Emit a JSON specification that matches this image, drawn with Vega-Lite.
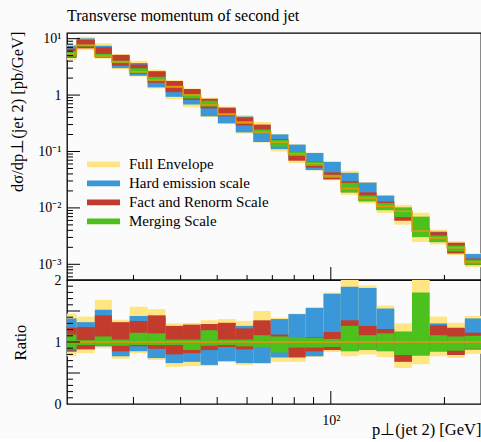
{
  "$schema": "https://vega.github.io/schema/vega-lite/v6.json",
  "background": "#fbfbfb",
  "padding": {"left": 8, "top": 8, "right": 0, "bottom": 0},
  "title": {"text": "Transverse momentum of second jet", "anchor": "start", "frame": "group", "font": "Liberation Serif", "fontSize": 16, "fontWeight": "normal", "color": "black", "baseline": "alphabetic", "offset": -7},
  "spacing": 0,
  "bounds": "flush",
  "resolve": {"legend": {"color": "independent"}},
  "config": {
    "view": {"stroke": "black", "strokeWidth": 1.3},
    "axis": {"grid": false, "domain": false, "ticks": false, "labelFont": "Liberation Serif", "labelFontSize": 14, "labelColor": "black", "titleFont": "Liberation Serif", "titleFontSize": 16.5, "titleFontWeight": "normal", "titleColor": "black", "labelFlush": false, "labelOverlap": false, "labelBound": false}
  },
  "datasets": {
    "bands": [
      {"b": "Full Envelope", "lo": 20, "hi": 21.2, "ylo": 4.17, "yhi": 7.91, "rlo": 0.77, "rhi": 1.46},
      {"b": "Full Envelope", "lo": 21.2, "hi": 23.7, "ylo": 6.26, "yhi": 10.77, "rlo": 0.82, "rhi": 1.41},
      {"b": "Full Envelope", "lo": 23.7, "hi": 26.3, "ylo": 4.44, "yhi": 8.28, "rlo": 0.90, "rhi": 1.68},
      {"b": "Full Envelope", "lo": 26.3, "hi": 29.3, "ylo": 2.85, "yhi": 5.32, "rlo": 0.73, "rhi": 1.36},
      {"b": "Full Envelope", "lo": 29.3, "hi": 32.7, "ylo": 2.13, "yhi": 4.08, "rlo": 0.82, "rhi": 1.57},
      {"b": "Full Envelope", "lo": 32.7, "hi": 36.5, "ylo": 1.31, "yhi": 2.83, "rlo": 0.71, "rhi": 1.53},
      {"b": "Full Envelope", "lo": 36.5, "hi": 40.6, "ylo": 0.846, "yhi": 1.833, "rlo": 0.60, "rhi": 1.30},
      {"b": "Full Envelope", "lo": 40.6, "hi": 45.2, "ylo": 0.61, "yhi": 1.31, "rlo": 0.61, "rhi": 1.31},
      {"b": "Full Envelope", "lo": 45.2, "hi": 50.2, "ylo": 0.407, "yhi": 0.900, "rlo": 0.61, "rhi": 1.35},
      {"b": "Full Envelope", "lo": 50.2, "hi": 56.0, "ylo": 0.311, "yhi": 0.626, "rlo": 0.68, "rhi": 1.37},
      {"b": "Full Envelope", "lo": 56.0, "hi": 62.3, "ylo": 0.208, "yhi": 0.442, "rlo": 0.63, "rhi": 1.34},
      {"b": "Full Envelope", "lo": 62.3, "hi": 69.3, "ylo": 0.144, "yhi": 0.333, "rlo": 0.65, "rhi": 1.50},
      {"b": "Full Envelope", "lo": 69.3, "hi": 77.2, "ylo": 0.100, "yhi": 0.204, "rlo": 0.68, "rhi": 1.39},
      {"b": "Full Envelope", "lo": 77.2, "hi": 85.8, "ylo": 0.0622, "yhi": 0.1334, "rlo": 0.68, "rhi": 1.46},
      {"b": "Full Envelope", "lo": 85.8, "hi": 95.6, "ylo": 0.0462, "yhi": 0.0948, "rlo": 0.76, "rhi": 1.56},
      {"b": "Full Envelope", "lo": 95.6, "hi": 106.3, "ylo": 0.0309, "yhi": 0.0662, "rlo": 0.84, "rhi": 1.80},
      {"b": "Full Envelope", "lo": 106.3, "hi": 118.5, "ylo": 0.0170, "yhi": 0.0453, "rlo": 0.77, "rhi": 2.05},
      {"b": "Full Envelope", "lo": 118.5, "hi": 132.2, "ylo": 0.0120, "yhi": 0.0287, "rlo": 0.80, "rhi": 1.91},
      {"b": "Full Envelope", "lo": 132.2, "hi": 147.3, "ylo": 0.00813, "yhi": 0.01701, "rlo": 0.76, "rhi": 1.59},
      {"b": "Full Envelope", "lo": 147.3, "hi": 164.1, "ylo": 0.00505, "yhi": 0.01131, "rlo": 0.58, "rhi": 1.30},
      {"b": "Full Envelope", "lo": 164.1, "hi": 182.8, "ylo": 0.00249, "yhi": 0.00821, "rlo": 0.64, "rhi": 2.11},
      {"b": "Full Envelope", "lo": 182.8, "hi": 203.3, "ylo": 0.00225, "yhi": 0.00412, "rlo": 0.77, "rhi": 1.41},
      {"b": "Full Envelope", "lo": 203.3, "hi": 226.5, "ylo": 0.00146, "yhi": 0.00258, "rlo": 0.74, "rhi": 1.31},
      {"b": "Full Envelope", "lo": 226.5, "hi": 250, "ylo": 0.00089, "yhi": 0.00156, "rlo": 0.81, "rhi": 1.42},
      {"b": "Hard emission scale", "lo": 20, "hi": 21.2, "ylo": 4.55, "yhi": 7.48, "rlo": 0.84, "rhi": 1.38},
      {"b": "Hard emission scale", "lo": 21.2, "hi": 23.7, "ylo": 6.88, "yhi": 10.08, "rlo": 0.90, "rhi": 1.32},
      {"b": "Hard emission scale", "lo": 23.7, "hi": 26.3, "ylo": 4.58, "yhi": 7.49, "rlo": 0.93, "rhi": 1.52},
      {"b": "Hard emission scale", "lo": 26.3, "hi": 29.3, "ylo": 3.01, "yhi": 5.08, "rlo": 0.77, "rhi": 1.30},
      {"b": "Hard emission scale", "lo": 29.3, "hi": 32.7, "ylo": 2.21, "yhi": 3.69, "rlo": 0.85, "rhi": 1.42},
      {"b": "Hard emission scale", "lo": 32.7, "hi": 36.5, "ylo": 1.37, "yhi": 2.59, "rlo": 0.74, "rhi": 1.40},
      {"b": "Hard emission scale", "lo": 36.5, "hi": 40.6, "ylo": 0.931, "yhi": 1.692, "rlo": 0.66, "rhi": 1.20},
      {"b": "Hard emission scale", "lo": 40.6, "hi": 45.2, "ylo": 0.68, "yhi": 1.20, "rlo": 0.68, "rhi": 1.20},
      {"b": "Hard emission scale", "lo": 45.2, "hi": 50.2, "ylo": 0.420, "yhi": 0.800, "rlo": 0.63, "rhi": 1.20},
      {"b": "Hard emission scale", "lo": 50.2, "hi": 56.0, "ylo": 0.315, "yhi": 0.548, "rlo": 0.69, "rhi": 1.20},
      {"b": "Hard emission scale", "lo": 56.0, "hi": 62.3, "ylo": 0.218, "yhi": 0.416, "rlo": 0.66, "rhi": 1.26},
      {"b": "Hard emission scale", "lo": 62.3, "hi": 69.3, "ylo": 0.147, "yhi": 0.289, "rlo": 0.66, "rhi": 1.30},
      {"b": "Hard emission scale", "lo": 69.3, "hi": 77.2, "ylo": 0.110, "yhi": 0.201, "rlo": 0.75, "rhi": 1.37},
      {"b": "Hard emission scale", "lo": 77.2, "hi": 85.8, "ylo": 0.0731, "yhi": 0.1325, "rlo": 0.80, "rhi": 1.45},
      {"b": "Hard emission scale", "lo": 85.8, "hi": 95.6, "ylo": 0.0468, "yhi": 0.0942, "rlo": 0.77, "rhi": 1.55},
      {"b": "Hard emission scale", "lo": 95.6, "hi": 106.3, "ylo": 0.0324, "yhi": 0.0655, "rlo": 0.88, "rhi": 1.78},
      {"b": "Hard emission scale", "lo": 106.3, "hi": 118.5, "ylo": 0.0190, "yhi": 0.0418, "rlo": 0.86, "rhi": 1.89},
      {"b": "Hard emission scale", "lo": 118.5, "hi": 132.2, "ylo": 0.0132, "yhi": 0.0281, "rlo": 0.88, "rhi": 1.87},
      {"b": "Hard emission scale", "lo": 132.2, "hi": 147.3, "ylo": 0.00931, "yhi": 0.01648, "rlo": 0.87, "rhi": 1.54},
      {"b": "Hard emission scale", "lo": 147.3, "hi": 164.1, "ylo": 0.00740, "yhi": 0.00957, "rlo": 0.85, "rhi": 1.10},
      {"b": "Hard emission scale", "lo": 164.1, "hi": 182.8, "ylo": 0.00331, "yhi": 0.00428, "rlo": 0.85, "rhi": 1.10},
      {"b": "Hard emission scale", "lo": 182.8, "hi": 203.3, "ylo": 0.00248, "yhi": 0.00380, "rlo": 0.85, "rhi": 1.30},
      {"b": "Hard emission scale", "lo": 203.3, "hi": 226.5, "ylo": 0.00167, "yhi": 0.00236, "rlo": 0.85, "rhi": 1.20},
      {"b": "Hard emission scale", "lo": 226.5, "hi": 250, "ylo": 0.00097, "yhi": 0.00152, "rlo": 0.88, "rhi": 1.38},
      {"b": "Fact and Renorm Scale", "lo": 20, "hi": 21.2, "ylo": 4.66, "yhi": 6.67, "rlo": 0.86, "rhi": 1.23},
      {"b": "Fact and Renorm Scale", "lo": 21.2, "hi": 23.7, "ylo": 6.72, "yhi": 9.47, "rlo": 0.88, "rhi": 1.24},
      {"b": "Fact and Renorm Scale", "lo": 23.7, "hi": 26.3, "ylo": 4.68, "yhi": 7.05, "rlo": 0.95, "rhi": 1.43},
      {"b": "Fact and Renorm Scale", "lo": 26.3, "hi": 29.3, "ylo": 3.32, "yhi": 5.16, "rlo": 0.85, "rhi": 1.32},
      {"b": "Fact and Renorm Scale", "lo": 29.3, "hi": 32.7, "ylo": 2.42, "yhi": 3.48, "rlo": 0.93, "rhi": 1.34},
      {"b": "Fact and Renorm Scale", "lo": 32.7, "hi": 36.5, "ylo": 1.65, "yhi": 2.65, "rlo": 0.89, "rhi": 1.43},
      {"b": "Fact and Renorm Scale", "lo": 36.5, "hi": 40.6, "ylo": 1.128, "yhi": 1.777, "rlo": 0.80, "rhi": 1.26},
      {"b": "Fact and Renorm Scale", "lo": 40.6, "hi": 45.2, "ylo": 0.82, "yhi": 1.28, "rlo": 0.82, "rhi": 1.28},
      {"b": "Fact and Renorm Scale", "lo": 45.2, "hi": 50.2, "ylo": 0.580, "yhi": 0.860, "rlo": 0.87, "rhi": 1.29},
      {"b": "Fact and Renorm Scale", "lo": 50.2, "hi": 56.0, "ylo": 0.420, "yhi": 0.599, "rlo": 0.92, "rhi": 1.31},
      {"b": "Fact and Renorm Scale", "lo": 56.0, "hi": 62.3, "ylo": 0.290, "yhi": 0.403, "rlo": 0.88, "rhi": 1.22},
      {"b": "Fact and Renorm Scale", "lo": 62.3, "hi": 69.3, "ylo": 0.206, "yhi": 0.300, "rlo": 0.93, "rhi": 1.35},
      {"b": "Fact and Renorm Scale", "lo": 69.3, "hi": 77.2, "ylo": 0.125, "yhi": 0.165, "rlo": 0.85, "rhi": 1.12},
      {"b": "Fact and Renorm Scale", "lo": 77.2, "hi": 85.8, "ylo": 0.0686, "yhi": 0.0951, "rlo": 0.75, "rhi": 1.04},
      {"b": "Fact and Renorm Scale", "lo": 85.8, "hi": 95.6, "ylo": 0.0517, "yhi": 0.0657, "rlo": 0.85, "rhi": 1.08},
      {"b": "Fact and Renorm Scale", "lo": 95.6, "hi": 106.3, "ylo": 0.0320, "yhi": 0.0427, "rlo": 0.87, "rhi": 1.16},
      {"b": "Fact and Renorm Scale", "lo": 106.3, "hi": 118.5, "ylo": 0.0190, "yhi": 0.0298, "rlo": 0.86, "rhi": 1.35},
      {"b": "Fact and Renorm Scale", "lo": 118.5, "hi": 132.2, "ylo": 0.0132, "yhi": 0.0189, "rlo": 0.88, "rhi": 1.26},
      {"b": "Fact and Renorm Scale", "lo": 132.2, "hi": 147.3, "ylo": 0.00920, "yhi": 0.01295, "rlo": 0.86, "rhi": 1.21},
      {"b": "Fact and Renorm Scale", "lo": 147.3, "hi": 164.1, "ylo": 0.00592, "yhi": 0.01001, "rlo": 0.68, "rhi": 1.15},
      {"b": "Fact and Renorm Scale", "lo": 164.1, "hi": 182.8, "ylo": 0.00311, "yhi": 0.00428, "rlo": 0.80, "rhi": 1.10},
      {"b": "Fact and Renorm Scale", "lo": 182.8, "hi": 203.3, "ylo": 0.00248, "yhi": 0.00371, "rlo": 0.85, "rhi": 1.27},
      {"b": "Fact and Renorm Scale", "lo": 203.3, "hi": 226.5, "ylo": 0.00156, "yhi": 0.00242, "rlo": 0.79, "rhi": 1.23},
      {"b": "Fact and Renorm Scale", "lo": 226.5, "hi": 250, "ylo": 0.00097, "yhi": 0.00127, "rlo": 0.88, "rhi": 1.15},
      {"b": "Merging Scale", "lo": 20, "hi": 21.2, "ylo": 4.77, "yhi": 6.07, "rlo": 0.88, "rhi": 1.12},
      {"b": "Merging Scale", "lo": 21.2, "hi": 23.7, "ylo": 7.26, "yhi": 7.87, "rlo": 0.95, "rhi": 1.03},
      {"b": "Merging Scale", "lo": 23.7, "hi": 26.3, "ylo": 4.68, "yhi": 5.37, "rlo": 0.95, "rhi": 1.09},
      {"b": "Merging Scale", "lo": 26.3, "hi": 29.3, "ylo": 3.68, "yhi": 4.07, "rlo": 0.94, "rhi": 1.04},
      {"b": "Merging Scale", "lo": 29.3, "hi": 32.7, "ylo": 2.47, "yhi": 2.99, "rlo": 0.95, "rhi": 1.15},
      {"b": "Merging Scale", "lo": 32.7, "hi": 36.5, "ylo": 1.76, "yhi": 2.11, "rlo": 0.95, "rhi": 1.14},
      {"b": "Merging Scale", "lo": 36.5, "hi": 40.6, "ylo": 1.340, "yhi": 1.466, "rlo": 0.95, "rhi": 1.04},
      {"b": "Merging Scale", "lo": 40.6, "hi": 45.2, "ylo": 0.87, "yhi": 1.04, "rlo": 0.87, "rhi": 1.04},
      {"b": "Merging Scale", "lo": 45.2, "hi": 50.2, "ylo": 0.627, "yhi": 0.794, "rlo": 0.94, "rhi": 1.19},
      {"b": "Merging Scale", "lo": 50.2, "hi": 56.0, "ylo": 0.434, "yhi": 0.475, "rlo": 0.95, "rhi": 1.04},
      {"b": "Merging Scale", "lo": 56.0, "hi": 62.3, "ylo": 0.307, "yhi": 0.343, "rlo": 0.93, "rhi": 1.04},
      {"b": "Merging Scale", "lo": 62.3, "hi": 69.3, "ylo": 0.204, "yhi": 0.246, "rlo": 0.92, "rhi": 1.11},
      {"b": "Merging Scale", "lo": 69.3, "hi": 77.2, "ylo": 0.122, "yhi": 0.160, "rlo": 0.83, "rhi": 1.09},
      {"b": "Merging Scale", "lo": 77.2, "hi": 85.8, "ylo": 0.0832, "yhi": 0.0978, "rlo": 0.91, "rhi": 1.07},
      {"b": "Merging Scale", "lo": 85.8, "hi": 95.6, "ylo": 0.0553, "yhi": 0.0651, "rlo": 0.91, "rhi": 1.07},
      {"b": "Merging Scale", "lo": 95.6, "hi": 106.3, "ylo": 0.0339, "yhi": 0.0386, "rlo": 0.92, "rhi": 1.05},
      {"b": "Merging Scale", "lo": 106.3, "hi": 118.5, "ylo": 0.0188, "yhi": 0.0278, "rlo": 0.85, "rhi": 1.26},
      {"b": "Merging Scale", "lo": 118.5, "hi": 132.2, "ylo": 0.0131, "yhi": 0.0167, "rlo": 0.87, "rhi": 1.11},
      {"b": "Merging Scale", "lo": 132.2, "hi": 147.3, "ylo": 0.00910, "yhi": 0.01220, "rlo": 0.85, "rhi": 1.14},
      {"b": "Merging Scale", "lo": 147.3, "hi": 164.1, "ylo": 0.00687, "yhi": 0.01018, "rlo": 0.79, "rhi": 1.17},
      {"b": "Merging Scale", "lo": 164.1, "hi": 182.8, "ylo": 0.00303, "yhi": 0.00700, "rlo": 0.78, "rhi": 1.80},
      {"b": "Merging Scale", "lo": 182.8, "hi": 203.3, "ylo": 0.00248, "yhi": 0.00324, "rlo": 0.85, "rhi": 1.11},
      {"b": "Merging Scale", "lo": 203.3, "hi": 226.5, "ylo": 0.00169, "yhi": 0.00215, "rlo": 0.86, "rhi": 1.09},
      {"b": "Merging Scale", "lo": 226.5, "hi": 250, "ylo": 0.00098, "yhi": 0.00121, "rlo": 0.89, "rhi": 1.10}
    ],
    "nominal": [
      {"x": 20, "y": 5.42}, {"x": 21.2, "y": 7.64}, {"x": 23.7, "y": 4.93}, {"x": 26.3, "y": 3.91},
      {"x": 29.3, "y": 2.60}, {"x": 32.7, "y": 1.85}, {"x": 36.5, "y": 1.41}, {"x": 40.6, "y": 1.00},
      {"x": 45.2, "y": 0.667}, {"x": 50.2, "y": 0.457}, {"x": 56.0, "y": 0.330}, {"x": 62.3, "y": 0.222},
      {"x": 69.3, "y": 0.147}, {"x": 77.2, "y": 0.0914}, {"x": 85.8, "y": 0.0608}, {"x": 95.6, "y": 0.0368},
      {"x": 106.3, "y": 0.0221}, {"x": 118.5, "y": 0.0150}, {"x": 132.2, "y": 0.0107}, {"x": 147.3, "y": 0.0087},
      {"x": 164.1, "y": 0.00389}, {"x": 182.8, "y": 0.00292}, {"x": 203.3, "y": 0.00197}, {"x": 226.5, "y": 0.00110},
      {"x": 250, "y": 0.00110}
    ],
    "yMajor": [{"v": 0.001}, {"v": 0.01}, {"v": 0.1}, {"v": 1}, {"v": 10}],
    "yMinor": [{"v": 0.0006}, {"v": 0.0007}, {"v": 0.0008}, {"v": 0.0009}, {"v": 0.002}, {"v": 0.003}, {"v": 0.004}, {"v": 0.005}, {"v": 0.006}, {"v": 0.007}, {"v": 0.008}, {"v": 0.009}, {"v": 0.02}, {"v": 0.03}, {"v": 0.04}, {"v": 0.05}, {"v": 0.06}, {"v": 0.07}, {"v": 0.08}, {"v": 0.09}, {"v": 0.2}, {"v": 0.3}, {"v": 0.4}, {"v": 0.5}, {"v": 0.6}, {"v": 0.7}, {"v": 0.8}, {"v": 0.9}, {"v": 2}, {"v": 3}, {"v": 4}, {"v": 5}, {"v": 6}, {"v": 7}, {"v": 8}, {"v": 9}],
    "xMajor": [{"v": 100}],
    "xMinor": [{"v": 30}, {"v": 40}, {"v": 50}, {"v": 60}, {"v": 70}, {"v": 80}, {"v": 90}, {"v": 200}],
    "rMajor": [{"v": 0.5}, {"v": 1}, {"v": 1.5}],
    "rMinor": [{"v": 0.1}, {"v": 0.2}, {"v": 0.3}, {"v": 0.4}, {"v": 0.6}, {"v": 0.7}, {"v": 0.8}, {"v": 0.9}, {"v": 1.1}, {"v": 1.2}, {"v": 1.3}, {"v": 1.4}, {"v": 1.6}, {"v": 1.7}, {"v": 1.8}, {"v": 1.9}]
  },
  "vconcat": [
    {
      "width": 414,
      "height": 247,
      "layer": [
        {
          "data": {"name": "bands"},
          "mark": {"type": "rect", "clip": true},
          "encoding": {
            "x": {"field": "lo", "type": "quantitative", "scale": {"type": "log", "domain": [20, 250], "nice": false},
              "axis": {"values": [100], "labels": false, "title": null}},
            "x2": {"field": "hi"},
            "y": {"field": "ylo", "type": "quantitative", "scale": {"type": "log", "domain": [0.000527, 12.6], "nice": false},
              "axis": {"values": [0.001, 0.01, 0.1, 1, 10],
                "labelExpr": "datum.value == 10 ? '10\u00b9' : datum.value == 1 ? '1' : datum.value == 0.1 ? '10\u207b\u00b9' : datum.value == 0.01 ? '10\u207b\u00b2' : '10\u207b\u00b3'",
                "labelPadding": 6,
                "title": "d\u03c3/dp\u22a5(jet 2) [pb/GeV]", "titleAnchor": "end", "titleX": -50, "titleY": -2, "titleBaseline": "middle"}},
            "y2": {"field": "yhi"},
            "color": {"field": "b", "type": "nominal",
              "scale": {"domain": ["Full Envelope", "Hard emission scale", "Fact and Renorm Scale", "Merging Scale"], "range": ["#ffe682", "#3a98d8", "#c33b2c", "#4cc01c"]},
              "legend": {"orient": "none", "legendX": 20, "legendY": 122, "title": null, "padding": 0,
                "symbolType": "M-1,-0.18H1V0.18H-1Z", "symbolSize": 1089, "symbolStrokeWidth": 0, "symbolOpacity": 1,
                "labelFont": "Liberation Serif", "labelFontSize": 15, "labelColor": "black", "labelOffset": 9,
                "clipHeight": 18.7, "rowPadding": 0}}
          }
        },
        {
          "data": {"name": "nominal"},
          "mark": {"type": "line", "interpolate": "step-after", "color": "#e8960c", "strokeWidth": 1.5, "clip": true},
          "encoding": {
            "x": {"field": "x", "type": "quantitative"},
            "y": {"field": "y", "type": "quantitative"}
          }
        },
        {
          "data": {"name": "yMajor"},
          "mark": {"type": "rule", "color": "black", "strokeWidth": 1, "x2Offset": 13},
          "encoding": {
            "y": {"field": "v", "type": "quantitative"},
            "x": {"datum": 20, "type": "quantitative"},
            "x2": {"datum": 20}
          }
        },
        {
          "data": {"name": "yMinor"},
          "mark": {"type": "rule", "color": "black", "strokeWidth": 1, "x2Offset": 6},
          "encoding": {
            "y": {"field": "v", "type": "quantitative"},
            "x": {"datum": 20, "type": "quantitative"},
            "x2": {"datum": 20}
          }
        },
        {
          "data": {"name": "xMajor"},
          "mark": {"type": "rule", "color": "black", "strokeWidth": 1, "y2Offset": -13},
          "encoding": {
            "x": {"field": "v", "type": "quantitative"},
            "y": {"datum": 0.000527, "type": "quantitative"},
            "y2": {"datum": 0.000527}
          }
        },
        {
          "data": {"name": "xMinor"},
          "mark": {"type": "rule", "color": "black", "strokeWidth": 1, "y2Offset": -5},
          "encoding": {
            "x": {"field": "v", "type": "quantitative"},
            "y": {"datum": 0.000527, "type": "quantitative"},
            "y2": {"datum": 0.000527}
          }
        }
      ]
    },
    {
      "width": 414,
      "height": 124,
      "layer": [
        {
          "data": {"name": "bands"},
          "mark": {"type": "rect", "clip": true},
          "encoding": {
            "x": {"field": "lo", "type": "quantitative", "scale": {"type": "log", "domain": [20, 250], "nice": false},
              "axis": {"values": [100], "labelExpr": "'10\u00b2'", "labelPadding": 9,
                "title": "p\u22a5(jet 2) [GeV]", "titleAnchor": "end", "titleY": 30, "titleBaseline": "alphabetic"}},
            "x2": {"field": "hi"},
            "y": {"field": "rlo", "type": "quantitative", "scale": {"domain": [0, 2], "nice": false, "zero": false},
              "axis": {"values": [0, 0.5, 1, 1.5, 2], "format": "~g", "labelPadding": 6,
                "title": "Ratio", "titleX": -47, "titleBaseline": "middle"}},
            "y2": {"field": "rhi"},
            "color": {"field": "b", "type": "nominal",
              "scale": {"domain": ["Full Envelope", "Hard emission scale", "Fact and Renorm Scale", "Merging Scale"], "range": ["#ffe682", "#3a98d8", "#c33b2c", "#4cc01c"]},
              "legend": null}
          }
        },
        {
          "data": {"values": [{}]},
          "mark": {"type": "rule", "color": "#e8960c", "strokeWidth": 1.3},
          "encoding": {
            "x": {"datum": 20, "type": "quantitative"},
            "x2": {"datum": 250},
            "y": {"datum": 1, "type": "quantitative"}
          }
        },
        {
          "data": {"name": "rMajor"},
          "mark": {"type": "rule", "color": "black", "strokeWidth": 1, "x2Offset": 13},
          "encoding": {
            "y": {"field": "v", "type": "quantitative"},
            "x": {"datum": 20, "type": "quantitative"},
            "x2": {"datum": 20}
          }
        },
        {
          "data": {"name": "rMinor"},
          "mark": {"type": "rule", "color": "black", "strokeWidth": 1, "x2Offset": 6},
          "encoding": {
            "y": {"field": "v", "type": "quantitative"},
            "x": {"datum": 20, "type": "quantitative"},
            "x2": {"datum": 20}
          }
        },
        {
          "data": {"name": "xMajor"},
          "mark": {"type": "rule", "color": "black", "strokeWidth": 1, "y2Offset": -13},
          "encoding": {
            "x": {"field": "v", "type": "quantitative"},
            "y": {"datum": 0, "type": "quantitative"},
            "y2": {"datum": 0}
          }
        },
        {
          "data": {"name": "xMinor"},
          "mark": {"type": "rule", "color": "black", "strokeWidth": 1, "y2Offset": -7},
          "encoding": {
            "x": {"field": "v", "type": "quantitative"},
            "y": {"datum": 0, "type": "quantitative"},
            "y2": {"datum": 0}
          }
        }
      ]
    }
  ]
}
